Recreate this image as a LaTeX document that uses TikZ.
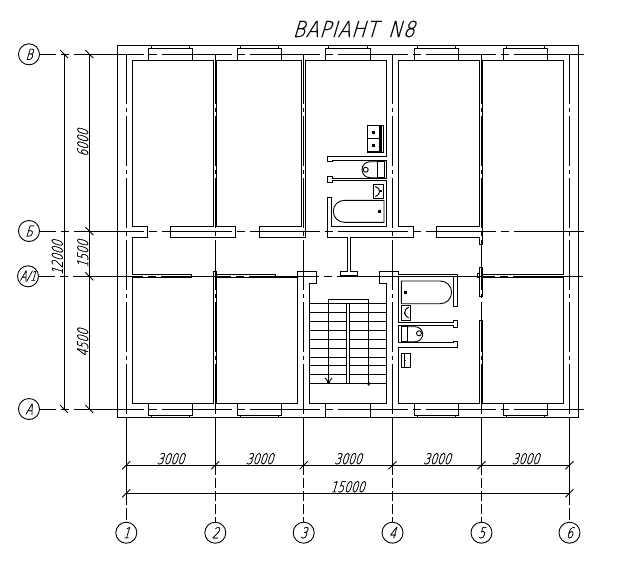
\documentclass[tikz,border=0pt]{standalone}
\usepackage{fontspec}
\newfontfamily\cadfont[FakeSlant=0.3,FakeStretch=0.72,FakeBold=0.5]{DejaVu Sans ExtraLight}
\newfontfamily\titlefont[FakeSlant=0.3,FakeStretch=0.86,FakeBold=0.5,LetterSpace=3]{DejaVu Sans ExtraLight}
\tikzset{
    wall/.style={line width=.9pt,line join=miter},
    axisline/.style={line width=.9pt,dash pattern=on 70pt off 5pt on 8pt off 5pt},
    axisvert/.style={line width=.9pt,dash pattern=on 50pt off 4pt on 4pt off 4pt},
    dimline/.style={line width=.9pt},
    bubble/.style={draw,circle,line width=.9pt,minimum size=21pt,inner sep=0pt,font=\cadfont\fontsize{15}{15}\selectfont},
    dimtext/.style={inner sep=0pt,font=\cadfont\fontsize{15}{15}\selectfont},
}
\begin{document}
\begin{tikzpicture}[x=1pt,y=-1pt]
    \useasboundingbox (0,0) rectangle (618,565);
    \node[inner sep=0pt,font=\titlefont\fontsize{22}{22}\selectfont] (title) at (353.7,29) {ВАРІАНТ\, N8};

    % bubbles
    \node[bubble] (rowV) at (29,54.3) {В};
    \node[bubble] (rowB) at (29,231) {Б};
    \node[bubble,font=\cadfont\fontsize{13.5}{13.5}\selectfont] (rowA1) at (28,276.3) {А/1};
    \node[bubble] (rowA) at (29,409) {А};
    \foreach \n/\x in {1/126.3,2/215.3,3/303.7,4/392.5,5/481.5,6/569.5} {
        \node[bubble] (col\n) at (\x,532.7) {\n};
        \coordinate (top\n) at (\x,54);
        \coordinate (wall\n) at (\x,417);
        \coordinate (ext\n) at (\x,465.3);
        \draw[axisvert] (top\n) -- (wall\n);
        \draw[dimline] (wall\n) -- (ext\n);
    }
    \foreach \n in {2,3,4,5}
        \draw[dimline,dash pattern=on 10pt off 3pt] (ext\n) -- (col\n.north);
    \foreach \n in {1,6} {
        \path (ext\n) ++(0,28) coordinate (far\n);
        \draw[dimline] (ext\n) -- (far\n);
        \draw[dimline,dash pattern=on 12pt off 3pt] (far\n) -- (col\n.north);
    }
    \foreach \r in {rowV,rowB,rowA1,rowA} {
        \coordinate (end\r) at (585,0 |- \r);
        \draw[axisline,dash phase=54pt] (\r.east) -- (end\r);
    }

    % dimensions
    \coordinate (dimA) at (64,54);
    \coordinate (dimB) at (64,409);
    \coordinate (dimC) at (89.3,54);
    \coordinate (dimD) at (89.3,409);
    \draw[dimline] (dimA) -- (dimB);
    \draw[dimline] (dimC) -- (dimD);
    \foreach \y in {54,409}
        \draw[dimline] (60,\y-4) -- (68,\y+4);
    \foreach \y in {54,231,276.3,409}
        \draw[dimline] (85.3,\y-4) -- (93.3,\y+4);
    \coordinate (dimE) at (126.3,465.3);
    \coordinate (dimF) at (569.5,465.3);
    \coordinate (dimG) at (126.3,493.3);
    \coordinate (dimH) at (569.5,493.3);
    \draw[dimline] (dimE) -- (dimF);
    \draw[dimline] (dimG) -- (dimH);
    \foreach \x in {126.3,215.3,303.7,392.5,481.5,569.5}
        \draw[dimline] (\x-4,465.3+4) -- (\x+4,465.3-4);
    \foreach \x in {126.3,569.5}
        \draw[dimline] (\x-4,493.3+4) -- (\x+4,493.3-4);
    \foreach \x in {170.5,259.5,348,437,525.5}
        \node[dimtext] at (\x,458.7) {3000};
    \node[dimtext] (overall) at (347.5,486.7) {15000};
    \node[dimtext,rotate=90] at (82.7,143) {6000};
    \node[dimtext,rotate=90] at (82.7,254) {1500};
    \node[dimtext,rotate=90] at (82.7,342.7) {4500};
    \node[dimtext,rotate=90] at (57.3,257.7) {12000};

    % walls
    \draw[wall] (117.3,45.3) rectangle (578.3,417);
    \draw[wall] (213.3,60.3)--(132.3,60.3)--(132.3,226.3)--(147.7,226.3)--(147.7,237.3)--(132.3,237.3)--(132.3,274.3)--(191.7,274.3)--(191.7,277.3)--(132.3,277.3)--(132.3,403.3)--(213.3,403.3)--(213.3,271)--(216.7,271)--(216.7,403.3)--(297.3,403.3)--(297.3,277.3)--(216.7,277.3);
    \draw[wall] (216.7,274.3)--(275.3,274.3)--(275.3,277.3);
    \draw[wall] (213.3,60.3)--(213.3,226.3)--(170.3,226.3)--(170.3,237.3)--(235.3,237.3)--(235.3,226.3)--(216.7,226.3)--(216.7,60.3)--(301.3,60.3)--(301.3,226.3)--(259.3,226.3)--(259.3,237.3)--(305.3,237.3)--(305.3,60.3)--(386.7,60.3)--(386.7,156.3)--(327.7,156.3)--(327.7,161.7)--(332,161.7)--(332,160.3)--(386.7,160.3)--(386.7,178)--(332,178)--(332,176)--(327.7,176)--(327.7,182)--(332,182)--(332,180.7)--(386.7,180.7)--(386.7,226.3)--(331.3,226.3)--(331.3,197.3)--(327.3,197.3)--(327.3,237.3)--(347.3,237.3)--(347.3,271)--(340.7,271)--(340.7,275.5)--(357.7,275.5)--(357.7,271)--(350.7,271)--(350.7,237.3)--(413.3,237.3)--(413.3,226.3)--(398.3,226.3)--(398.3,60.3)--(479.3,60.3)--(479.3,226.3)--(436.3,226.3)--(436.3,237.3)--(479.3,237.3)--(479.3,244)--(482.7,244)--(482.7,60.3)--(563.3,60.3)--(563.3,274.3)--(482.7,274.3);
    \draw[wall] (479.3,267.3)--(482.7,267.3)--(482.7,296)--(479.3,296)--cycle;
    \draw[wall] (477.3,273) rectangle (479.3,277.3);
    \draw[wall] (482.7,277.3)--(563.3,277.3)--(563.3,403.3)--(482.7,403.3)--(482.7,320)--(479.3,320)--(479.3,403.3)--(398.3,403.3)--(398.3,347)--(457.7,347)--(457.7,341.7)--(453.3,341.7)--(453.3,342.7)--(398.3,342.7)--(398.3,325.3)--(453.3,325.3)--(453.3,327)--(457.7,327)--(457.7,320.3)--(453.3,320.3)--(453.3,322.3)--(398.3,322.3)--(398.3,276.3)--(453.3,276.3)--(453.3,306.3)--(457.7,306.3)--(457.7,274.3)--(398.3,274.3)--(398.3,271)--(379.3,271)--(379.3,283.3)--(386.7,283.3)--(386.7,403.3)--(309.3,403.3)--(309.3,283.3)--(316.7,283.3)--(316.7,271)--(297.3,271)--(297.3,277.3);

    % windows
    \foreach \x in {148.3,237.3,414.3,503.3} {
        \draw[wall] (\x,48.3) rectangle (\x+44.4,60.3);
        \draw[wall] (\x+3,45.3) rectangle (\x+41.4,48.3);
        \draw[wall] (\x,403.3) rectangle (\x+44.4,415.3);
        \draw[wall] (\x+3,415.3) rectangle (\x+41.4,417);
    }
    \draw[wall] (325.3,48.3) rectangle (370.7,60.3);
    \draw[wall] (328.3,45.3) rectangle (367.3,48.3);
    \draw[wall] (325.3,403.3) -- (325.3,417);
    \draw[wall] (370.7,403.3) -- (370.7,417);

    % stairs
    \foreach \y in {303.7,312.3,321.7,330.3,339.7,348.3,357.3,365.3,374.7,383.3} {
        \draw[wall] (309.3,\y) -- (346.7,\y);
        \draw[wall] (349.7,\y) -- (386.7,\y);
    }
    \draw[wall] (328.7,383.3)--(328.7,299.7)--(368.7,299.7)--(368.7,383.3);
    \draw[wall] (346.7,303.7)--(346.7,383.3)--(349.7,383.3)--(349.7,303.7)--cycle;
    \draw[wall] (325.3,378)--(328.7,382.5)--(332,378);
    \fill (327.2,381) rectangle (330.2,384);
    \draw[wall] (367.7,383.7)--(368.7,382.2)--(369.7,383.7)--(368.7,385.2)--cycle;

    % kitchen unit
    \draw[line width=1.4pt] (367.3,125.7) rectangle (380,152);
    \draw[line width=1.4pt] (367.3,138.3) -- (380,138.3);
    \draw[wall] (380,125.7)--(383.7,125.7)--(383.7,152)--(380,152);
    \draw[wall] (381.8,125.7)--(381.8,152);
    \fill (372,131.3) rectangle (374.5,133.8);
    \fill (372,144.3) rectangle (374.5,146.8);

    % upper toilet, basin and bath
    \draw[wall] (377.3,161.7) rectangle (384,177.7);
    \draw[wall] (377.3,161.7)--(370,161.7) arc[start angle=90,end angle=270,radius=8pt]--(377.3,177.7);
    \draw[wall] (365.7,169.7) circle (2.5pt);
    \draw[wall] (373.3,184) rectangle (383.7,198.7);
    \draw[wall] (375.3,186.5) .. controls (381,188) and (381,195) .. (375.3,196.5);
    \fill (380,190.2) rectangle (382,192.2);
    \draw[wall] (384,200.3)--(344.3,200.3) arc[start angle=90,end angle=270,radius=11pt]--(384,222.3)--cycle;
    \fill (377.7,209.6) rectangle (381,212.9);

    % lower bath, basin, toilet and sink
    \draw[wall] (401.3,281)--(440.3,281) arc[start angle=90,end angle=-90,radius=11.35pt]--(401.3,303.7)--cycle;
    \fill (403.7,290.7) rectangle (407,294);
    \draw[wall] (401.3,305) rectangle (410.7,320);
    \draw[wall] (408.7,307) .. controls (403.5,309) and (403.5,316) .. (408.7,318);
    \fill (403.5,311.5) rectangle (405,313.5);
    \draw[wall] (401.3,326.7) rectangle (407.3,341.7);
    \draw[wall] (407.3,326.7)--(415.2,326.7) arc[start angle=90,end angle=-90,radius=7.5pt]--(407.3,341.7);
    \draw[wall] (419,333.3) circle (2.5pt);
    \draw[wall] (401.3,353.3) rectangle (410.7,367.7);
    \draw[wall] (404,353.3)--(404,367.7);
    \fill (404,359.7) -- (406,360.7) -- (404,361.7) -- cycle;
\end{tikzpicture}
\end{document}
